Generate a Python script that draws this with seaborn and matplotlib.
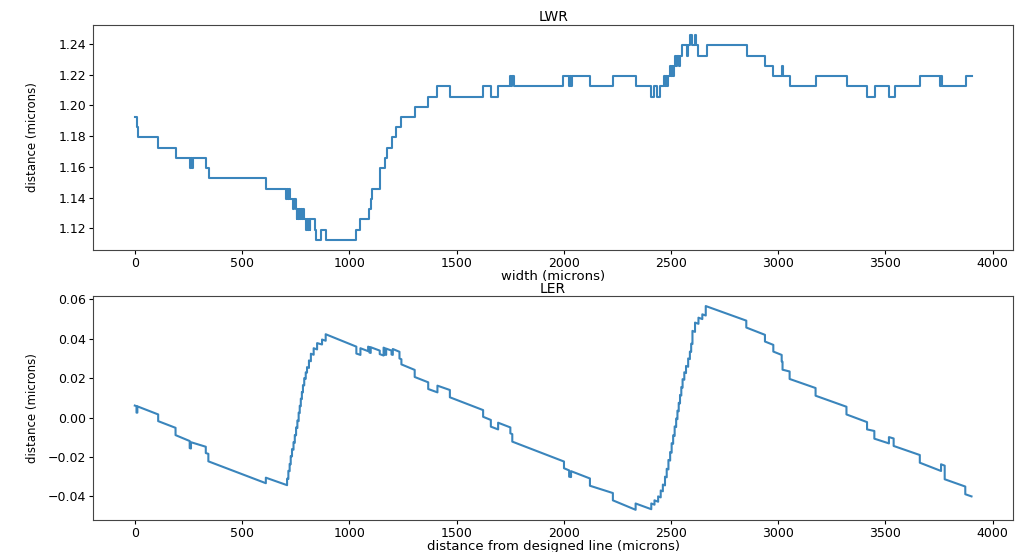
import matplotlib
matplotlib.use("Agg")
import matplotlib.pyplot as plt
import seaborn as sns

# LWR: step trace (x where the level changes, level from there on)
lwr_x = [0, 10, 15, 109, 191, 256, 261, 265, 273, 331, 346, 611, 707, 711, 715, 719, 723,
         738, 742, 750, 754, 758, 762, 766, 770, 774, 779, 783, 787, 797, 801, 806, 810,
         815, 819, 838, 846, 869, 893, 1030, 1049, 1092, 1100, 1106, 1145, 1167, 1178, 1198,
         1220, 1243, 1305, 1367, 1411, 1469, 1624, 1660, 1694, 1751, 1755, 1759, 1767,
         1997, 2025, 2029, 2034, 2040, 2122, 2229, 2335, 2408, 2420, 2436, 2451, 2467,
         2471, 2475, 2480, 2484, 2496, 2502, 2506, 2511, 2515, 2520, 2525, 2530, 2535,
         2540, 2550, 2575, 2579, 2590, 2598, 2610, 2618, 2628, 2667, 2852, 2938, 2977,
         3016, 3022, 3053, 3174, 3321, 3414, 3453, 3515, 3546, 3660, 3756, 3759, 3763,
         3876, 3901]
lwr_y = [1.1925, 1.1858, 1.1792, 1.1725, 1.1658, 1.1592, 1.1658, 1.1592, 1.1658, 1.1592,
         1.1525, 1.1458, 1.1392, 1.1458, 1.1392, 1.1458, 1.1392, 1.1325, 1.1392, 1.1325,
         1.1258, 1.1325, 1.1258, 1.1325, 1.1258, 1.1325, 1.1258, 1.1325, 1.1258, 1.1192,
         1.1258, 1.1192, 1.1258, 1.1192, 1.1258, 1.1192, 1.1125, 1.1192, 1.1125, 1.1192,
         1.1258, 1.1325, 1.1392, 1.1458, 1.1592, 1.1658, 1.1725, 1.1792, 1.1858, 1.1925,
         1.1992, 1.2058, 1.2125, 1.2058, 1.2125, 1.2058, 1.2125, 1.2192, 1.2125, 1.2192,
         1.2125, 1.2192, 1.2125, 1.2192, 1.2125, 1.2192, 1.2125, 1.2192, 1.2125, 1.2058,
         1.2125, 1.2058, 1.2125, 1.2192, 1.2125, 1.2192, 1.2125, 1.2192, 1.2258, 1.2192,
         1.2258, 1.2192, 1.2258, 1.2325, 1.2258, 1.2325, 1.2258, 1.2325, 1.2392, 1.2325,
         1.2392, 1.2458, 1.2392, 1.2458, 1.2392, 1.2325, 1.2392, 1.2325, 1.2258, 1.2192,
         1.2258, 1.2192, 1.2125, 1.2192, 1.2125, 1.2058, 1.2125, 1.2058, 1.2125, 1.2192,
         1.2125, 1.2192, 1.2125, 1.2192, 1.2192]

# LER: polyline vertices (vertical jumps use the same x twice)
ler_x = [0, 8, 8, 12, 12, 109, 109, 190, 190, 256, 256, 262, 262, 331, 331, 343, 343, 611,
         611, 710, 710, 716, 716, 722, 722, 727, 727, 733, 733, 740, 740, 746, 746, 752,
         752, 758, 758, 764, 764, 769, 769, 774, 774, 779, 779, 784, 784, 790, 790, 797,
         797, 803, 803, 812, 812, 821, 821, 834, 834, 850, 850, 873, 873, 890, 890, 1033,
         1033, 1052, 1052, 1088, 1088, 1094, 1094, 1100, 1100, 1142, 1142, 1160, 1160,
         1166, 1166, 1172, 1172, 1197, 1197, 1203, 1203, 1234, 1234, 1243, 1243, 1305,
         1305, 1368, 1368, 1411, 1411, 1469, 1469, 1624, 1624, 1660, 1660, 1694, 1694,
         1751, 1751, 1760, 1760, 2001, 2001, 2025, 2025, 2034, 2034, 2122, 2122, 2229,
         2229, 2335, 2335, 2408, 2408, 2423, 2423, 2440, 2440, 2452, 2452, 2462, 2462,
         2472, 2472, 2480, 2480, 2488, 2488, 2496, 2496, 2503, 2503, 2510, 2510, 2517,
         2517, 2524, 2524, 2530, 2530, 2536, 2536, 2542, 2542, 2548, 2548, 2554, 2554,
         2562, 2562, 2570, 2570, 2580, 2580, 2588, 2588, 2594, 2594, 2600, 2600, 2612,
         2612, 2628, 2628, 2646, 2646, 2662, 2662, 2851, 2851, 2938, 2938, 2977, 2977,
         3016, 3016, 3020, 3020, 3053, 3053, 3174, 3174, 3318, 3318, 3414, 3414, 3448,
         3448, 3516, 3516, 3538, 3538, 3660, 3660, 3759, 3759, 3776, 3776, 3872, 3872,
         3901]
ler_y = [0.0061, 0.0058, 0.0025, 0.0025, 0.0057, 0.0016, -0.0018, -0.0052, -0.0089,
         -0.0119, -0.0155, -0.0157, -0.0125, -0.0148, -0.0180, -0.0184, -0.0222, -0.0333,
         -0.0305, -0.0343, -0.0310, -0.0312, -0.0270, -0.0272, -0.0235, -0.0237, -0.0195,
         -0.0197, -0.0160, -0.0163, -0.0125, -0.0128, -0.0088, -0.0090, -0.0050, -0.0053,
         -0.0015, -0.0018, 0.0025, 0.0023, 0.0060, 0.0058, 0.0096, 0.0094, 0.0130, 0.0128,
         0.0165, 0.0163, 0.0200, 0.0197, 0.0230, 0.0228, 0.0256, 0.0252, 0.0290, 0.0286,
         0.0324, 0.0319, 0.0352, 0.0346, 0.0378, 0.0371, 0.0396, 0.0390, 0.0423, 0.0360,
         0.0325, 0.0318, 0.0352, 0.0337, 0.0360, 0.0357, 0.0330, 0.0328, 0.0357, 0.0340,
         0.0322, 0.0315, 0.0355, 0.0352, 0.0320, 0.0318, 0.0350, 0.0340, 0.0320, 0.0318,
         0.0348, 0.0334, 0.0300, 0.0296, 0.0270, 0.0242, 0.0206, 0.0179, 0.0145, 0.0128,
         0.0162, 0.0140, 0.0103, 0.0038, 0.0004, -0.0012, -0.0046, -0.0060, -0.0026,
         -0.0050, -0.0080, -0.0084, -0.0122, -0.0223, -0.0257, -0.0268, -0.0300, -0.0302,
         -0.0272, -0.0309, -0.0346, -0.0383, -0.0420, -0.0468, -0.0436, -0.0465, -0.0436,
         -0.0442, -0.0420, -0.0427, -0.0400, -0.0405, -0.0370, -0.0374, -0.0340, -0.0344,
         -0.0300, -0.0303, -0.0260, -0.0263, -0.0215, -0.0218, -0.0175, -0.0178, -0.0130,
         -0.0133, -0.0090, -0.0093, -0.0045, -0.0048, -0.0005, -0.0008, 0.0035, 0.0032,
         0.0075, 0.0072, 0.0115, 0.0112, 0.0155, 0.0152, 0.0195, 0.0192, 0.0230, 0.0226,
         0.0262, 0.0258, 0.0300, 0.0297, 0.0335, 0.0333, 0.0375, 0.0373, 0.0440, 0.0435,
         0.0482, 0.0476, 0.0507, 0.0500, 0.0524, 0.0518, 0.0566, 0.0492, 0.0457, 0.0420,
         0.0386, 0.0369, 0.0335, 0.0318, 0.0285, 0.0283, 0.0243, 0.0234, 0.0196, 0.0150,
         0.0111, 0.0055, 0.0016, -0.0023, -0.0060, -0.0068, -0.0107, -0.0131, -0.0099,
         -0.0106, -0.0144, -0.0190, -0.0229, -0.0271, -0.0237, -0.0244, -0.0313, -0.0350,
         -0.0389, -0.0400]

line_color = "#3a85bc"

fig = plt.figure(figsize=(10.17, 5.52), dpi=100)
ax1 = fig.add_axes([0.0914, 0.547, 0.905, 0.408])
ax2 = fig.add_axes([0.0914, 0.058, 0.905, 0.406])

sns.lineplot(x=lwr_x, y=lwr_y, ax=ax1, sort=False, estimator=None,
             color=line_color, linewidth=1.5, drawstyle="steps-post")
ax1.set_title("LWR", fontsize=10, pad=3)
ax1.set_xlabel("width (microns)", fontsize=9.5, labelpad=0)
ax1.set_ylabel("distance (microns)", fontsize=8.5, labelpad=14)
ax1.set_yticks([1.12, 1.14, 1.16, 1.18, 1.20, 1.22, 1.24])

sns.lineplot(x=ler_x, y=ler_y, ax=ax2, sort=False, estimator=None,
             color=line_color, linewidth=1.5)
ax2.set_title("LER", fontsize=10, pad=2)
ax2.set_xlabel("distance from designed line (microns)", fontsize=9.5, labelpad=0)
ax2.set_ylabel("distance (microns)", fontsize=8.5, labelpad=6)

for ax in (ax1, ax2):
    ax.set_xticks([0, 500, 1000, 1500, 2000, 2500, 3000, 3500, 4000])
    ax.tick_params(labelsize=9, length=3, pad=2)
    for s in ax.spines.values():
        s.set_color("#444444")

plt.savefig("out.png", dpi=100)
plt.close()
